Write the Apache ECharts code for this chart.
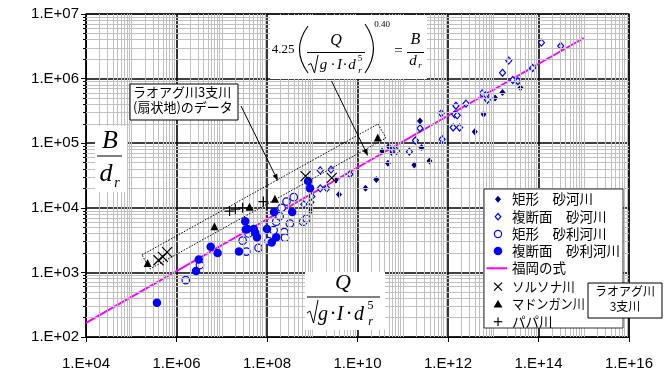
<!DOCTYPE html>
<html>
<head>
<meta charset="utf-8">
<script src="https://cdn.jsdelivr.net/npm/echarts@6/dist/echarts.min.js"></script>
<style>
  html, body { margin: 0; padding: 0; background: #fff; }
  #chart { width: 668px; height: 371px; }
</style>
</head>
<body>
<div id="chart"></div>
<script>
// 矩形 砂河川
const sandRect = [
  [9.2e8, 8.9e3], [3.3e9, 2.7e4], [3.9e9, 1.6e4], [1.5e10, 2.0e4], [2.6e10, 2.75e4],
  [3.5e10, 7.6e4], [5.7e10, 7.2e4], [4.9e10, 8.9e4], [4.7e10, 4.9e4], [2.4e11, 2.2e5],
  [2.6e11, 8.6e4], [1.8e11, 4.6e4], [3.9e11, 5.3e4], [3.9e12, 1.5e5], [6.1e12, 2.8e5],
  [1.1e13, 5.0e5], [1.6e13, 6.1e5], [4.0e13, 7.2e5]
];
// 複断面 砂河川
const sandCompound = [
  [6.5e8, 1.13e4], [9.3e8, 1.22e4], [9.8e8, 1.5e4], [1.5e9, 2.0e4], [2.1e9, 2.0e4],
  [1.5e9, 3.8e4], [2.6e9, 3.9e4], [6.8e9, 3.3e4], [6.0e10, 7.8e4], [7.3e10, 7.6e4],
  [1.4e11, 7.4e4], [1.9e11, 1.1e5], [2.4e11, 1.7e5], [7.4e11, 1.15e5], [7.1e11, 2.9e5],
  [1.3e12, 1.75e5], [1.8e12, 1.75e5], [1.4e12, 2.8e5], [1.6e12, 2.7e5], [1.5e12, 3.8e5],
  [2.5e12, 4.1e5], [5.7e12, 5.9e5], [7.0e12, 5.6e5], [7.4e12, 4.7e5], [1.6e13, 1.23e6],
  [2.2e13, 1.9e6], [2.7e13, 9.5e5], [3.5e13, 9.1e5], [7.4e13, 1.46e6], [1.16e14, 3.6e6],
  [3.1e14, 3.2e6]
];
// 矩形 砂利河川
const gravelRect = [
  [1.6e6, 7.6e2], [3.3e6, 1.3e3], [2.9e7, 3.1e3], [3.5e7, 2.1e3], [3.9e7, 4.0e3],
  [6.5e7, 2.4e3], [1.08e8, 3.05e3], [1.4e8, 4.5e3], [1.6e8, 6.1e3], [1.9e8, 7.4e3],
  [2.4e8, 4.2e3], [2.5e8, 3.45e3], [2.7e8, 1.25e4], [3.2e8, 5.7e3], [3.9e8, 1.46e4],
  [6.3e8, 6.1e3], [7.5e8, 6.8e3], [2.1e8, 1.0e4]
];
// 複断面 砂利河川
const gravelCompound = [
  [3.7e5, 3.4e2], [2.7e6, 1.05e3], [3.1e6, 1.58e3], [5.7e6, 2.5e3], [8.1e6, 2.0e3],
  [2.4e7, 2.1e3], [3.3e7, 6.2e3], [3.4e7, 4.6e3], [3.7e7, 4.7e3], [5.1e7, 4.7e3],
  [5.5e7, 4.1e3], [6.0e7, 3.5e3], [1.0e8, 4.7e3], [1.27e8, 2.9e3], [1.43e8, 8.6e3],
  [1.6e8, 3.5e3], [3.6e8, 8.6e3], [8.1e8, 2.6e4], [8.9e8, 2.0e4]
];
// 福岡の式 (端点)
const fukuoka = [[1e4, 165], [1e15, 4.25e6]];
// ソルソナ川
const solsona = [[4.0e5, 1.54e3], [5.0e5, 1.74e3], [6.2e5, 2.06e3], [7.1e8, 3.1e4], [2.7e9, 2.9e4]];
// マドンガン川
const madongan = [[2.3e5, 1.4e3], [6.9e6, 5.2e3], [4.1e7, 1.04e4], [1.5e8, 1.38e4], [2.8e10, 1.23e5]];
// パパ川
const papa = [[1.49e7, 8.9e3], [2.0e7, 9.5e3], [2.9e7, 1.0e4], [8.3e7, 1.25e4]];

const names = ['矩形　砂河川', '複断面　砂河川', '矩形　砂利河川', '複断面　砂利河川', '福岡の式', 'ソルソナ川', 'マドンガン川', 'パパ川'];

const fmtE = v => '1.E+' + String(Math.round(Math.log10(v))).padStart(2, '0');

// 補助目盛線
const xMinor = [];
for (let d = 4; d < 16; d++) {
  for (let k = 1; k <= 9; k++) {
    if (k === 1 && d % 2 === 0) continue;
    xMinor.push({ xAxis: k * Math.pow(10, d) });
  }
}
const yMinor = [];
for (let d = 2; d < 7; d++) {
  for (let k = 2; k <= 9; k++) yMinor.push({ yAxis: k * Math.pow(10, d) });
}

const SERIF = '"Liberation Serif", "DejaVu Serif", serif';
const JP = '"Noto Sans CJK JP", sans-serif';

const txt = (text, x, y, size, italic, family, align, sx) => ({
  type: 'text', x: x, y: y, z: 102, scaleX: sx || 1,
  style: {
    text: text, fill: '#000',
    font: (italic ? 'italic ' : '') + size + 'px ' + (family || SERIF),
    textAlign: align || 'center', textVerticalAlign: 'middle',
    align: align || 'center', verticalAlign: 'middle'
  }
});
const seg = (x1, y1, x2, y2, w) => ({
  type: 'line', z: 102, shape: { x1, y1, x2, y2 },
  style: { stroke: '#000', lineWidth: w || 1 }
});
const poly = points => ({
  type: 'polyline', z: 102, shape: { points: points },
  style: { stroke: '#000', lineWidth: 1, fill: null }
});
const arrow = (x1, y1, x2, y2) => {
  const a = Math.atan2(y2 - y1, x2 - x1), L = 7, W = 2.6;
  const bx = x2 - L * Math.cos(a), by = y2 - L * Math.sin(a);
  return [
    seg(x1, y1, bx, by, 1),
    { type: 'polygon', z: 102, shape: { points: [[x2, y2], [bx + W * Math.sin(a), by - W * Math.cos(a)], [bx - W * Math.sin(a), by + W * Math.cos(a)]] }, style: { fill: '#000' } }
  ];
};
const box = (x, y, w, h, stroke, z) => ({
  type: 'rect', z: z || 100, shape: { x, y, width: w, height: h },
  style: { fill: '#fff', stroke: stroke || null, lineWidth: 1 }
});

const legendY = [199.3, 216.7, 234, 251, 268.3, 286.7, 304, 321.7];
const legendSx = [1, 1, 1, 1, 1, 0.93, 0.9, 1];

const graphics = [
  // 式の枠
  box(270, 15, 157, 64),
  txt('4.25', 283, 50, 13),
  { type: 'bezierCurve', z: 102, shape: { x1: 308, y1: 26, cpx1: 291, cpy1: 49.5, x2: 308, y2: 73 }, style: { stroke: '#000', lineWidth: 1.1, fill: null } },
  txt('Q', 336, 41, 16, true),
  seg(307, 52.5, 365, 52.5, 1),
  poly([[308, 65], [311, 63.5], [314.5, 73], [318, 55]]),
  txt('g', 323.5, 65, 15, true),
  txt('·', 333, 65, 15),
  txt('I', 339.5, 65, 15, true),
  txt('·', 345, 65, 15),
  txt('d', 352, 65, 15, true),
  txt('5', 360, 59, 9),
  txt('r', 360, 71, 9, true),
  { type: 'bezierCurve', z: 102, shape: { x1: 365, y1: 24, cpx1: 382, cpy1: 48.5, x2: 365, y2: 73 }, style: { stroke: '#000', lineWidth: 1.1, fill: null } },
  txt('0.40', 382, 25, 9),
  txt('=', 398.5, 51, 15),
  txt('B', 415.5, 40, 16, true),
  seg(407, 52.5, 424, 52.5, 1),
  txt('d', 413, 61, 15, true),
  txt('r', 420, 66, 9, true),
  ...arrow(331.5, 81, 368, 156),

  // 縦軸タイトル
  box(95, 126, 32, 66),
  txt('B', 110, 141, 26, true),
  seg(97, 156, 122, 156, 1),
  txt('d', 106, 174, 26, true),
  txt('r', 117, 183, 14, true),

  // 横軸タイトル
  box(305, 272, 80, 58),
  txt('Q', 343, 283, 22, true),
  seg(307, 297, 380, 297, 1),
  poly([[307, 313], [310, 311], [313.5, 323], [318, 300]]),
  txt('g', 323, 315, 20, true),
  txt('·', 333, 315, 20),
  txt('I', 340, 315, 20, true),
  txt('·', 349, 315, 20),
  txt('d', 359, 315, 20, true),
  txt('5', 370.5, 306, 12),
  txt('r', 370.5, 322, 12, true),

  // ラオアグ川データの注記
  box(130, 84, 108, 36, '#000'),
  txt('ラオアグ川3支川', 133, 92, 13, false, JP, 'left'),
  txt('(扇状地)のデータ', 133, 107, 13, false, JP, 'left'),
  ...arrow(241, 106, 278, 181),
  {
    type: 'polygon', z: 99, shape: { points: [[142, 255], [378, 124], [386, 138], [150, 269]] },
    style: { fill: null, stroke: '#000', lineWidth: 1, lineDash: [1.5, 1.5] }
  },

  // 凡例
  box(484, 189, 139, 139, '#333'),
  { type: 'polygon', z: 102, shape: { points: [[498, 195.8], [501, 199.3], [498, 202.8], [495, 199.3]] }, style: { fill: '#000080' } },
  { type: 'polygon', z: 102, shape: { points: [[498, 213.5], [500.8, 216.7], [498, 219.9], [495.2, 216.7]] }, style: { fill: '#fff', stroke: '#0000ff', lineWidth: 1.2 } },
  { type: 'circle', z: 102, shape: { cx: 498, cy: 234, r: 3.6 }, style: { fill: '#fff', stroke: '#0000ff', lineWidth: 1.2 } },
  { type: 'circle', z: 102, shape: { cx: 498, cy: 251, r: 4.3 }, style: { fill: '#0000ff' } },
  { type: 'line', z: 102, shape: { x1: 486.5, y1: 268.3, x2: 507, y2: 268.3 }, style: { stroke: '#ff00ff', lineWidth: 2 } },
  seg(494, 282.7, 502, 290.7, 1.2), seg(502, 282.7, 494, 290.7, 1.2),
  { type: 'polygon', z: 102, shape: { points: [[498, 300], [502.5, 307.5], [493.5, 307.5]] }, style: { fill: '#000' } },
  seg(498, 317.5, 498, 326, 1.2), seg(493.8, 321.7, 502.2, 321.7, 1.2),
  ...names.map((n, i) => txt(n, 512, legendY[i], 13.5, false, JP, 'left', legendSx[i])),

  // ラオアグ川 3支川 ラベル
  box(588, 283, 74, 35, '#000', 103),
  Object.assign(txt('ラオアグ川', 625, 291.5, 12, false, JP), { z: 104 }),
  Object.assign(txt('3支川', 625, 306.5, 12, false, JP), { z: 104 })
];

const chart = echarts.init(document.getElementById('chart'), null, { renderer: 'canvas' });

const option = {
  animation: false,
  backgroundColor: '#fff',
  grid: {
    left: 86, right: 39, top: 14, bottom: 32,
    show: true, borderColor: '#666', borderWidth: 1.5, backgroundColor: 'transparent'
  },
  xAxis: {
    type: 'log', logBase: 100, min: 1e4, max: 1e16,
    axisLine: { show: true, onZero: false, lineStyle: { color: '#000', width: 1 } },
    axisTick: { show: true, inside: false, length: 5, lineStyle: { color: '#000' } },
    axisLabel: { formatter: fmtE, color: '#000', fontFamily: 'Liberation Sans, Arial, sans-serif', fontSize: 15, margin: 19 },
    splitLine: { show: true, lineStyle: { color: '#000', width: 1.6 } }
  },
  yAxis: {
    type: 'log', logBase: 10, min: 1e2, max: 1e7,
    axisLine: { show: true, onZero: false, lineStyle: { color: '#000', width: 1 } },
    axisTick: { show: true, inside: false, length: 5, lineStyle: { color: '#000' } },
    minorTick: { show: true, splitNumber: 9, length: 3, lineStyle: { color: '#000' } },
    axisLabel: { formatter: fmtE, color: '#000', fontFamily: 'Liberation Sans, Arial, sans-serif', fontSize: 15, margin: 7 },
    splitLine: { show: true, lineStyle: { color: '#000', width: 1.6 } }
  },
  graphic: { elements: graphics },
  series: [
    {
      type: 'line', name: 'grid', data: [], z: 1, silent: true,
      markLine: {
        silent: true, symbol: ['none', 'none'], label: { show: false },
        lineStyle: { color: '#c0c0c0', width: 1, type: 'solid' },
        emphasis: { disabled: true },
        data: xMinor.concat(yMinor)
      }
    },
    {
      type: 'line', name: names[4], data: fukuoka, z: 3, symbol: 'none',
      lineStyle: { color: '#ff00ff', width: 2 }
    },
    {
      type: 'scatter', name: names[0], data: sandRect, z: 4, symbol: 'diamond', symbolSize: [6, 7],
      itemStyle: { color: '#000080', opacity: 1 }
    },
    {
      type: 'scatter', name: names[1], data: sandCompound, z: 4, symbol: 'diamond', symbolSize: [6, 7],
      itemStyle: { color: '#fff', borderColor: '#0000ff', borderWidth: 1.2, opacity: 1 }
    },
    {
      type: 'scatter', name: names[2], data: gravelRect, z: 4, symbol: 'circle', symbolSize: 7.5,
      itemStyle: { color: '#fff', borderColor: '#0000ff', borderWidth: 1.2, opacity: 1 }
    },
    {
      type: 'scatter', name: names[3], data: gravelCompound, z: 5, symbol: 'circle', symbolSize: 8.5,
      itemStyle: { color: '#0000ff', opacity: 1 }
    },
    {
      type: 'scatter', name: names[5], data: solsona, z: 6, symbol: 'path://M0,0L10,10M10,0L0,10', symbolSize: 10,
      itemStyle: { color: 'transparent', borderColor: '#000', borderWidth: 1.2, opacity: 1 }
    },
    {
      type: 'scatter', name: names[6], data: madongan, z: 6, symbol: 'triangle', symbolSize: 8,
      itemStyle: { color: '#000', opacity: 1 }
    },
    {
      type: 'scatter', name: names[7], data: papa, z: 6, symbol: 'path://M5,0L5,10M0,5L10,5', symbolSize: 10,
      itemStyle: { color: 'transparent', borderColor: '#000', borderWidth: 1.2, opacity: 1 }
    }
  ]
};

chart.setOption(option);
</script>
</body>
</html>
